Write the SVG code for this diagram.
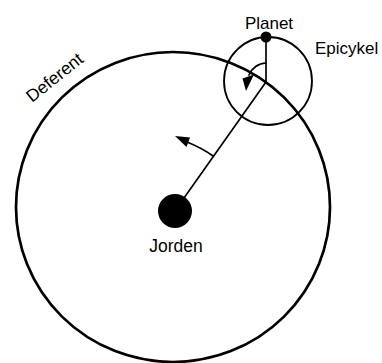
<svg xmlns="http://www.w3.org/2000/svg" width="382" height="363" viewBox="0 0 382 363">
<style>
text{font-family:"Liberation Sans",Arial,sans-serif;fill:#000;}
.ln{fill:none;stroke:#000;stroke-linecap:round;}
</style>
<rect width="382" height="363" fill="#fff"/>
<g id="deferent">
<ellipse class="ln" cx="173" cy="207" rx="157" ry="155" stroke-width="2.7"/>
<text x="32" y="103" font-size="17.5" transform="rotate(-38.5 32 103)">Deferent</text>
</g>
<g id="epicycle">
<circle class="ln" cx="268" cy="81" r="44" stroke-width="1.8"/>
<text x="315" y="54" font-size="17">Epicykel</text>
</g>
<g id="connectors">
<line class="ln" x1="184.7" y1="197" x2="266" y2="82" stroke-width="1.7"/>
<line class="ln" x1="266" y1="37" x2="266" y2="82" stroke-width="1.7"/>
<path class="ln" d="M266,63 A19,19 0 0 0 249,75" stroke-width="1.7"/>
<polygon points="242.5,78.5 254,74.5 246,91" fill="#000"/>
<path class="ln" d="M213,156 Q202,148 187,142" stroke-width="1.8"/>
<polygon points="175,136 190,137.5 186.5,147" fill="#000"/>
</g>
<g id="planet">
<circle cx="266" cy="37" r="5.5" fill="#000"/>
<text x="269" y="29" font-size="17" text-anchor="middle">Planet</text>
</g>
<g id="jorden">
<circle cx="175" cy="211" r="17" fill="#000"/>
<text x="176" y="251.5" font-size="17.5" text-anchor="middle">Jorden</text>
</g>
</svg>
